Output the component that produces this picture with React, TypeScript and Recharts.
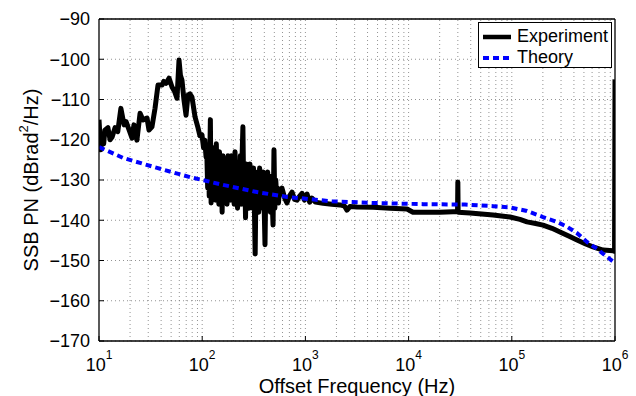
import {
  CartesianGrid,
  Label,
  Legend,
  Line,
  LineChart,
  ReferenceLine,
  XAxis,
  YAxis,
} from "recharts";

const FONT = '"Liberation Sans", Arial, Helvetica, sans-serif';

// measured single-sideband phase noise (Hz, dBrad^2/Hz)
const expFreq = [
  10, 10.4, 10.7, 11.1, 11.4, 12.2, 12.8, 13.4, 14.3, 15.2, 16.3, 17.5, 18.3, 19.1, 20.9, 21.8,
  23.3, 25, 26.7, 29.2, 30.5, 32.6, 34.9, 37.3, 40.8, 42.5, 44.6, 47.7, 51, 54, 57, 59.6, 61.5,
  63.7, 66.5, 69.7, 72.8, 76, 79.6, 85.2, 91, 95, 99.5, 103, 106, 109,
  111, 113, 115, 117, 119, 120, 122, 124, 126, 128, 130, 133, 135, 137, 140, 142, 145, 147, 150,
  153, 156, 159, 162, 165, 168, 171, 174, 178, 181, 185, 188, 192, 196, 200, 204, 208, 212, 216,
  220, 225, 229, 234, 238, 243, 248, 253, 258, 263, 268, 273, 279, 284, 290, 296, 302, 308, 314,
  320, 326, 333, 340, 346, 353, 360, 368, 375, 383, 390, 398, 406, 414, 422, 431, 440, 449, 458,
  467, 476, 486, 496, 506, 516, 527, 537, 548, 560,
  593, 630, 663, 700, 742, 785, 830, 880, 927, 980, 1037, 1100, 1159, 1250, 1483, 1800, 2165,
  2400, 2529, 2700, 3162, 4519, 6607, 9650, 11030, 20150, 26900, 29800, 30000, 30200, 39400,
  65800, 96100, 120000, 140300, 170000, 200600, 245000, 293000, 360000, 428600, 520000, 612300,
  765600, 958000, 990000, 1000000,
];
const expLevel = [
  -115, -122.5, -119, -121, -117.6, -117, -120, -119.3, -117, -118, -112.2, -116.3, -115.5,
  -116.8, -119.6, -116.3, -120.1, -113.4, -115.1, -114.6, -117.6, -116.8, -112.2, -106.4, -106.4,
  -105.5, -106, -104.7, -106.9, -108, -109.7, -100.2, -104, -105.2, -110, -113.9, -108.9, -108.6,
  -109.4, -114.3, -117, -119, -118.8, -122, -120.1, -124.3,
  -124, -132, -123, -134, -121, -115, -135.7, -125, -133, -122, -134, -124, -135, -121, -133,
  -125, -136, -123, -134, -126, -138, -124, -135, -125, -133, -127, -136, -124, -132, -126, -135,
  -124, -133, -125, -136, -123, -135, -126, -137, -127, -134, -124, -136, -125, -116.8, -135,
  -127, -139.4, -126, -134, -128, -137, -126, -135, -128, -137, -127, -136, -148.4, -129, -136,
  -128, -138, -127, -135, -129, -137, -128, -136, -146.1, -130, -137, -128, -136, -129, -138,
  -130, -135, -141.2, -122.5, -137, -130, -134, -132, -135.7, -133,
  -132, -134.5, -135.7, -134, -133, -134.8, -135, -134, -133.3, -135, -133.5, -135.5, -134.5,
  -135.5, -135.8, -136, -136.2, -136.5, -137.5, -136.6, -136.7, -136.8, -137, -137.2, -138, -138,
  -137.9, -137.9, -130.5, -138, -138.2, -138.7, -139.2, -139.8, -140.4, -140.8, -141.2, -142,
  -142.9, -144, -144.9, -145.9, -146.6, -147.4, -147.6, -147.7, -105,
];

// model prediction
const theoryFreq = [
  10, 17.1, 36.5, 76.3, 159, 340, 663, 1811, 4519, 13800, 35200, 65800, 96100, 140300, 200600,
  274000, 342600, 428600, 535600, 669900, 836000, 1000000,
];
const theoryLevel = [
  -121.8, -124.5, -127, -129.3, -131.2, -133, -134.2, -135.3, -135.7, -136, -136.1, -136.5,
  -136.8, -137.7, -139.2, -140.4, -141.6, -143.2, -145.4, -147.1, -149.1, -150.6,
];

const decadeTicks = [10, 100, 1000, 10000, 100000, 1000000];
const levelTicks = [-170, -160, -150, -140, -130, -120, -110, -100, -90];

const experiment = expFreq.map((f, i) => ({ f, v: expLevel[i] }));
const theory = theoryFreq.map((f, i) => ({ f, v: theoryLevel[i] }));

const xGrid = decadeTicks
  .slice(0, -1)
  .flatMap((d) => [2, 3, 4, 5, 6, 7, 8, 9].map((k) => k * d))
  .concat(decadeTicks.slice(1, -1));

const minus = (v: number) => (v < 0 ? `\u2212${Math.abs(v)}` : `${v}`);

function DecadeTick({ x, y, payload }: any) {
  const exp = Math.round(Math.log10(payload.value));
  return (
    <text x={x} y={y} textAnchor="middle" fontFamily={FONT} fontSize={18} fill="#000">
      <tspan dy={35}>10</tspan>
      <tspan dy={-12} fontSize={12}>
        {exp}
      </tspan>
    </text>
  );
}

function YTitle({ viewBox }: any) {
  const cx = viewBox.x + 31;
  const cy = viewBox.y + viewBox.height / 2;
  return (
    <text
      x={cx}
      y={cy}
      transform={`rotate(-90 ${cx} ${cy})`}
      textAnchor="middle"
      dominantBaseline="central"
      fontFamily={FONT}
      fontSize={20}
      fill="#000"
    >
      SSB PN (dBrad
      <tspan dy={-8} fontSize={13}>
        2
      </tspan>
      <tspan dy={8}>/Hz)</tspan>
    </text>
  );
}

function XTitle({ viewBox }: any) {
  return (
    <text
      x={viewBox.x + viewBox.width / 2}
      y={viewBox.y + viewBox.height - 3}
      textAnchor="middle"
      fontFamily={FONT}
      fontSize={20}
      fill="#000"
    >
      Offset Frequency (Hz)
    </text>
  );
}

function LegendBox() {
  const row = (top: number): React.CSSProperties => ({
    position: "absolute",
    left: 0,
    top,
    height: 21,
    lineHeight: "21px",
    display: "flex",
    alignItems: "center",
    whiteSpace: "nowrap",
  });
  return (
    <div
      style={{
        position: "relative",
        width: 134,
        height: 46,
        boxSizing: "border-box",
        border: "1.5px solid #000",
        background: "#fff",
        fontFamily: FONT,
        fontSize: 18,
        color: "#000",
      }}
    >
      <div style={row(3)}>
        <svg width={36} height={8} style={{ marginLeft: 2 }}>
          <line x1={2} y1={4} x2={30} y2={4} stroke="#000" strokeWidth={4.5} />
        </svg>
        <span>Experiment</span>
      </div>
      <div style={row(24)}>
        <svg width={36} height={8} style={{ marginLeft: 2 }}>
          <line
            x1={2}
            y1={4}
            x2={30}
            y2={4}
            stroke="#0000ff"
            strokeWidth={4}
            strokeDasharray="6 4"
          />
        </svg>
        <span>Theory</span>
      </div>
    </div>
  );
}

export default function App() {
  return (
    <div style={{ width: 636, height: 396, background: "#fff" }}>
      <style>{`body{margin:0}`}</style>
      <LineChart width={636} height={396} margin={{ top: 18, right: 20, bottom: 0, left: 0 }}>
        <CartesianGrid
          vertical={false}
          stroke="#777"
          strokeDasharray="1 3"
          strokeWidth={0.8}
        />
        {xGrid.map((g) => (
          <ReferenceLine
            key={g}
            x={g}
            stroke="#777"
            strokeDasharray="1 3"
            strokeWidth={0.8}
          />
        ))}
        <XAxis
          dataKey="f"
          type="number"
          scale="log"
          domain={[10, 1000000]}
          ticks={decadeTicks}
          allowDataOverflow
          interval={0}
          height={55}
          tickSize={-5}
          tickMargin={0}
          axisLine={{ stroke: "#000", strokeWidth: 1.3 }}
          tickLine={{ stroke: "#000" }}
          tick={<DecadeTick />}
        >
          <Label content={XTitle} />
        </XAxis>
        <XAxis
          xAxisId="top"
          orientation="top"
          type="number"
          scale="log"
          domain={[10, 1000000]}
          ticks={decadeTicks}
          allowDataOverflow
          height={1}
          tickSize={-5}
          axisLine={{ stroke: "#000", strokeWidth: 1.3 }}
          tickLine={{ stroke: "#000" }}
          tick={false}
        />
        <YAxis
          type="number"
          domain={[-170, -90]}
          ticks={levelTicks}
          interval={0}
          width={99}
          tickSize={-5}
          tickMargin={14}
          tickFormatter={minus}
          axisLine={{ stroke: "#000", strokeWidth: 1.3 }}
          tickLine={{ stroke: "#000" }}
          tick={{ fill: "#000", fontSize: 18, fontFamily: FONT }}
        >
          <Label content={YTitle} />
        </YAxis>
        <YAxis
          yAxisId="right"
          orientation="right"
          type="number"
          domain={[-170, -90]}
          ticks={levelTicks}
          width={1}
          tickSize={-5}
          axisLine={{ stroke: "#000", strokeWidth: 1.3 }}
          tickLine={{ stroke: "#000" }}
          tick={false}
        />
        <Legend
          layout="vertical"
          align="center"
          verticalAlign="middle"
          content={<LegendBox />}
          wrapperStyle={{ top: 22, left: 478, width: 134, height: 46 }}
        />
        <Line
          data={experiment}
          dataKey="v"
          name="Experiment"
          type="linear"
          stroke="#000"
          strokeWidth={5}
          strokeLinejoin="round"
          dot={false}
          isAnimationActive={false}
        />
        <Line
          data={theory}
          dataKey="v"
          name="Theory"
          type="linear"
          stroke="#0000ff"
          strokeWidth={4}
          strokeDasharray="6 4"
          dot={false}
          isAnimationActive={false}
        />
      </LineChart>
    </div>
  );
}
